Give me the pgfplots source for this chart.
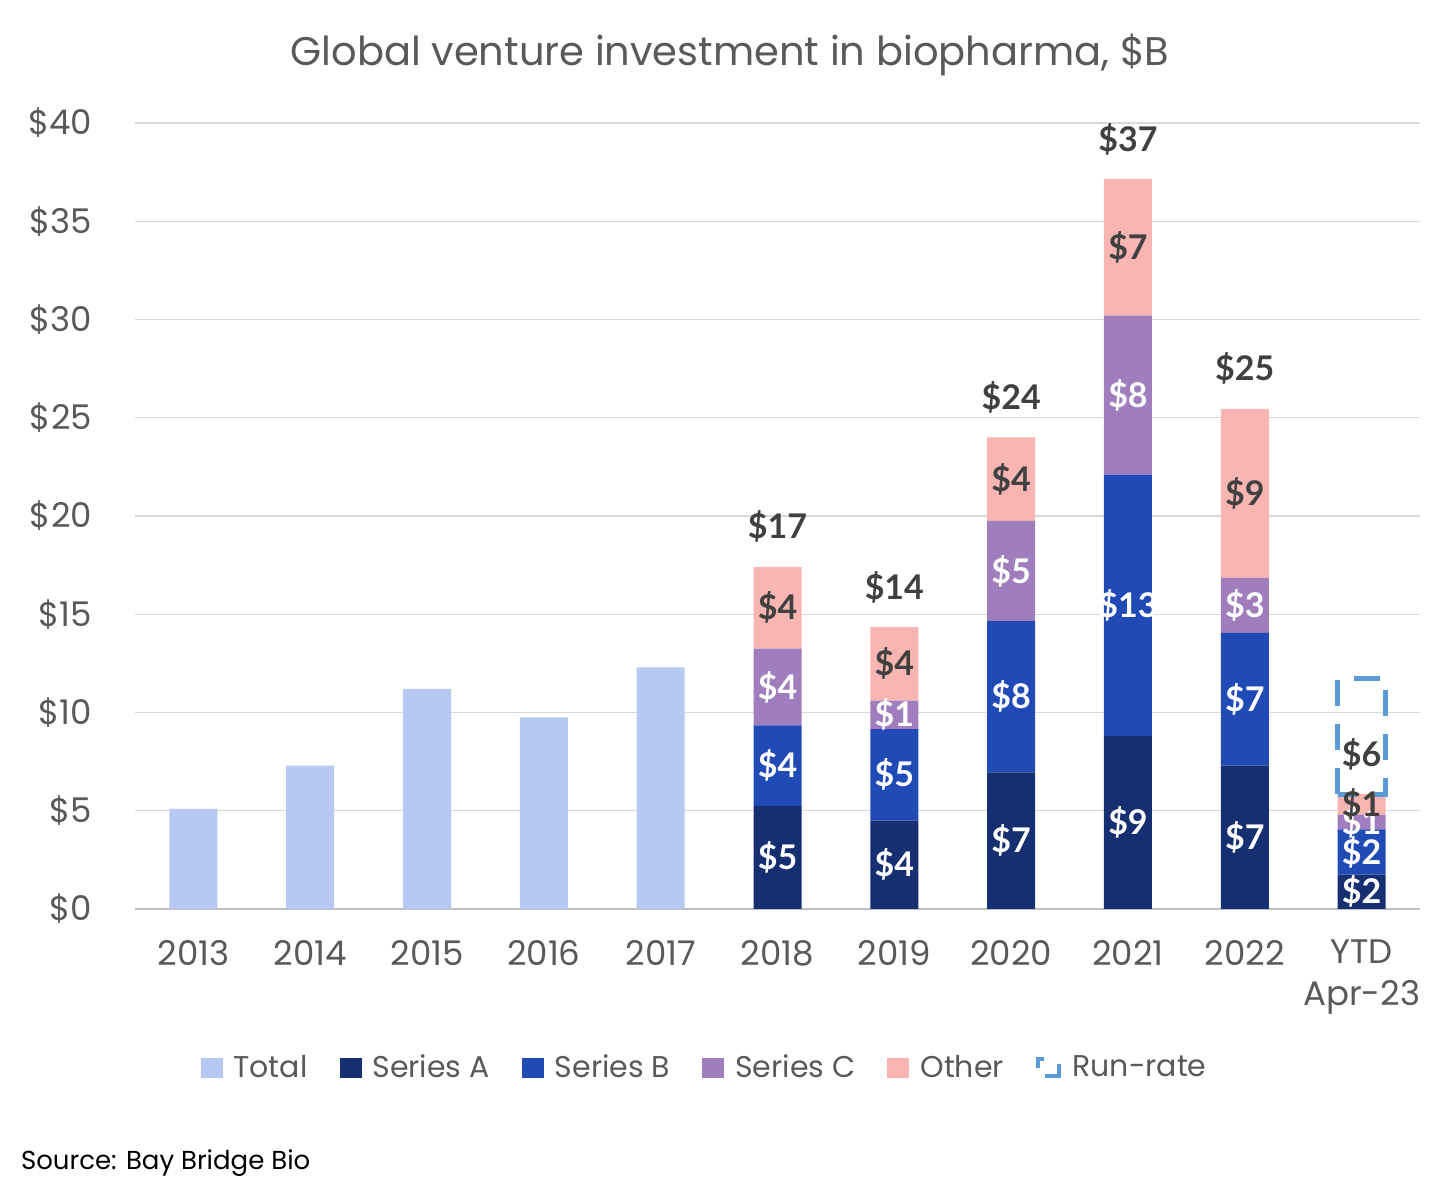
\documentclass[border=0pt]{standalone}
\usepackage{fontspec}
\setmainfont{Poppins}
\newfontfamily\labfont{Lato}
\usepackage{pgfplots}
\pgfplotsset{compat=1.18}

\definecolor{ctotal}{HTML}{B7C8F2}
\definecolor{ca}{HTML}{152F70}
\definecolor{cb}{HTML}{204AB6}
\definecolor{cc}{HTML}{A07EBE}
\definecolor{cother}{HTML}{F8B5B1}
\definecolor{crun}{HTML}{5B9BD5}
\definecolor{cgray}{HTML}{595959}
\definecolor{clab}{HTML}{404040}
\definecolor{cgrid}{HTML}{D9D9D9}
\definecolor{caxis}{HTML}{BFBFBF}

\pgfplotsset{
  sq/.style={legend image code/.code={\path[##1] (0pt,-5pt) rectangle (11pt,5pt);}},
  lab/.style={draw=none, mark=none, point meta=explicit,
    /pgf/number format/assume math mode=true,
    nodes near coords={\$\pgfmathprintnumber{\pgfplotspointmeta}},
    every node near coord/.append style={anchor=center, text=#1,
      font=\labfont\bfseries\fontsize{17}{20}\selectfont}},
}

\begin{document}
\begin{tikzpicture}
\useasboundingbox (0pt,0pt) rectangle (728pt,602pt);

\node[text=cgray, font=\fontsize{20}{24}\selectfont] at (365pt,574.5pt)
  {Global venture investment in biopharma, \$B};
\node[anchor=west, font=\fontsize{13}{16}\selectfont] at (7pt,20.5pt)
  {Source: Bay Bridge Bio};

% bars
\begin{axis}[
  at={(67.5pt,147.5pt)}, anchor=south west,
  scale only axis, width=642.5pt, height=393pt,
  ybar stacked, bar width=24pt,
  xmin=-0.5, xmax=10.5, ymin=0, ymax=40,
  xtick={0,...,10},
  xticklabels={2013,2014,2015,2016,2017,2018,2019,2020,2021,2022,{YTD\\Apr-23}},
  xticklabel style={align=center, text=cgray, font=\fontsize{17}{21}\selectfont, yshift=-12pt},
  ytick={0,5,...,40},
  yticklabel={\$\pgfmathprintnumber{\tick}},
  yticklabel style={text=cgray, font=\fontsize{17}{19}\selectfont, xshift=-18pt},
  /pgf/number format/assume math mode=true,
  ymajorgrids, major grid style={cgrid, line width=0.7pt},
  axis x line*=bottom, axis y line*=left,
  y axis line style={draw=none},
  x axis line style={caxis, line width=0.8pt},
  major tick length=0pt,
  legend columns=6,
  legend style={at={(0.444,-0.202)}, anchor=center, draw=none, fill=none,
    text=cgray, font=\fontsize{15}{18}\selectfont,
    /tikz/every odd column/.append style={column sep=3.5pt},
    /tikz/every even column/.append style={column sep=14pt}},
]
\addplot[fill=ctotal, draw=none, sq] coordinates
  {(0,5.1)(1,7.3)(2,11.2)(3,9.75)(4,12.3)(5,0)(6,0)(7,0)(8,0)(9,0)(10,0)};
\addlegendentry{Total}
\addplot[fill=ca, draw=none, sq] coordinates
  {(0,0)(1,0)(2,0)(3,0)(4,0)(5,5.25)(6,4.5)(7,6.95)(8,8.8)(9,7.3)(10,1.75)};
\addlegendentry{Series A}
\addplot[fill=cb, draw=none, sq] coordinates
  {(0,0)(1,0)(2,0)(3,0)(4,0)(5,4.1)(6,4.65)(7,7.7)(8,13.3)(9,6.75)(10,2.3)};
\addlegendentry{Series B}
\addplot[fill=cc, draw=none, sq] coordinates
  {(0,0)(1,0)(2,0)(3,0)(4,0)(5,3.9)(6,1.45)(7,5.1)(8,8.1)(9,2.8)(10,0.75)};
\addlegendentry{Series C}
\addplot[fill=cother, draw=none, sq] coordinates
  {(0,0)(1,0)(2,0)(3,0)(4,0)(5,4.15)(6,3.75)(7,4.25)(8,6.95)(9,8.6)(10,1.05)};
\addlegendentry{Other}
\addlegendimage{legend image code/.code={
  \draw[crun, line width=2.2pt] (1pt,0pt) -- (1pt,4.5pt) -- (4pt,4.5pt);
  \draw[crun, line width=2.2pt] (4.5pt,-4pt) -- (11.5pt,-4pt) -- (11.5pt,2pt);}}
\addlegendentry{Run-rate}
\end{axis}

% run-rate box and labels
\begin{axis}[
  at={(67.5pt,147.5pt)}, anchor=south west,
  scale only axis, width=642.5pt, height=393pt,
  xmin=-0.5, xmax=10.5, ymin=0, ymax=40,
  hide axis, clip=false,
]
\addplot[crun, line width=2.5pt, dash pattern=on 13pt off 9pt, mark=none] coordinates
  {(9.795,5.85)(9.795,11.75)(10.205,11.75)(10.205,5.85)(9.795,5.85)};
\addplot[lab=white] table[meta=v] {
x y v
5 2.63 5
6 2.25 4
7 3.48 7
8 4.40 9
9 3.65 7
10 0.88 2
};
\addplot[lab=white] table[meta=v] {
x y v
5 7.30 4
6 6.83 5
7 10.80 8
8 15.45 13
9 10.68 7
10 2.90 2
};
\addplot[lab=white] table[meta=v] {
x y v
5 11.30 4
6 9.88 1
7 17.20 5
8 26.15 8
9 15.45 3
10 4.43 1
};
\addplot[lab=clab] table[meta=v] {
x y v
5 15.33 4
6 12.48 4
7 21.88 4
8 33.68 7
9 21.15 9
10 5.33 1
};
\addplot[lab=clab] table[meta=v] {
x y v
5 19.45 17
6 16.39 14
7 26.04 24
8 39.19 37
9 27.49 25
10 7.89 6
};
\end{axis}
\end{tikzpicture}
\end{document}
